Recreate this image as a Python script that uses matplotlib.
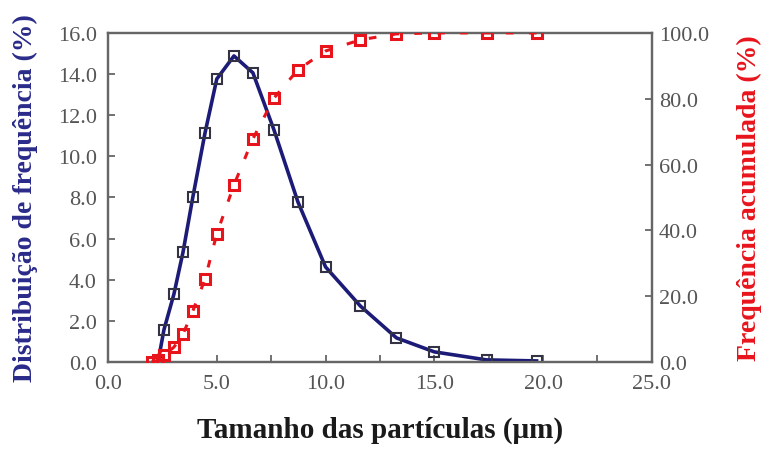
import matplotlib
matplotlib.use("Agg")
import matplotlib.pyplot as plt
from matplotlib.ticker import MultipleLocator, FormatStrFormatter

# Particle size (µm)
size_freq = [2.3, 2.57, 3.03, 3.45, 3.9, 4.46, 5.0, 5.79, 6.66, 7.63, 8.73,
             10.0, 11.6, 13.26, 15.0, 17.4, 19.7]
freq = [0.0, 1.56, 3.3, 5.35, 8.02, 11.14, 13.76, 14.88, 14.06, 11.28, 7.78,
        4.62, 2.72, 1.17, 0.49, 0.1, 0.05]

size_cum = [2.0, 2.3, 2.57, 3.03, 3.45, 3.9, 4.46, 5.0, 5.79, 6.66, 7.63, 8.73,
            10.0, 11.6, 13.26, 15.0, 17.4, 19.7]
cum = [0.0, 0.5, 2.0, 4.5, 8.5, 15.5, 25.2, 38.9, 53.8, 67.8, 80.2, 88.8,
       94.5, 97.9, 99.7, 100.0, 100.0, 100.0]

xlabel = "Tamanho das partículas (μm)"
ylabel_left = "Distribuição de frequência (%)"
ylabel_right = "Frequência acumulada (%)"

plt.rcParams['font.family'] = ['Liberation Serif', 'DejaVu Serif']

fig = plt.figure(figsize=(7.66, 4.52), dpi=100)
ax = fig.add_axes([0.141, 0.197, 0.710, 0.728])
ax2 = ax.twinx()

blue = '#1c1c78'
red = '#e8141c'
spine_col = '#666666'
tick_col = '#555555'

ax.plot(size_freq, freq, color=blue, lw=2.6, zorder=3)
ax.plot(size_freq, freq, ls='none', marker='s', ms=7.5, mfc='none',
        mec='#333344', mew=1.5, zorder=4)

ax2.plot(size_cum, cum, color=red, lw=2.2, ls=(0, (2.5, 5)), marker='s', ms=7,
         mfc='none', mec=red, mew=2.2, zorder=3)

ax.set_xlim(0, 25)
ax.set_ylim(0, 16)
ax2.set_ylim(0, 100)

ax.xaxis.set_major_locator(MultipleLocator(5))
ax.xaxis.set_minor_locator(MultipleLocator(2.5))
ax.yaxis.set_major_locator(MultipleLocator(2))
ax2.yaxis.set_major_locator(MultipleLocator(20))
for a in (ax, ax2):
    a.xaxis.set_major_formatter(FormatStrFormatter('%.1f'))
    a.yaxis.set_major_formatter(FormatStrFormatter('%.1f'))
    for s in a.spines.values():
        s.set_color(spine_col)
        s.set_linewidth(1.6)

ax.tick_params(axis='x', which='both', direction='in', length=5, width=1.3,
               color=spine_col, labelsize=16, labelcolor=tick_col, pad=9)
ax.tick_params(axis='y', which='both', direction='in', length=5, width=1.3,
               color=spine_col, labelsize=16, labelcolor=tick_col, pad=8)
ax2.tick_params(axis='y', direction='in', length=5, width=1.3,
                color=spine_col, labelsize=16, labelcolor=tick_col, pad=5)

ax.set_xlabel(xlabel, fontsize=21, fontweight='bold', color='#1a1a1a', labelpad=16)
ax.set_ylabel(ylabel_left, fontsize=20, fontweight='bold', color='#2a2a8a', labelpad=14)
ax2.set_ylabel(ylabel_right, fontsize=20, fontweight='bold', color=red, labelpad=20)

fig.savefig('out.png', dpi=100)
